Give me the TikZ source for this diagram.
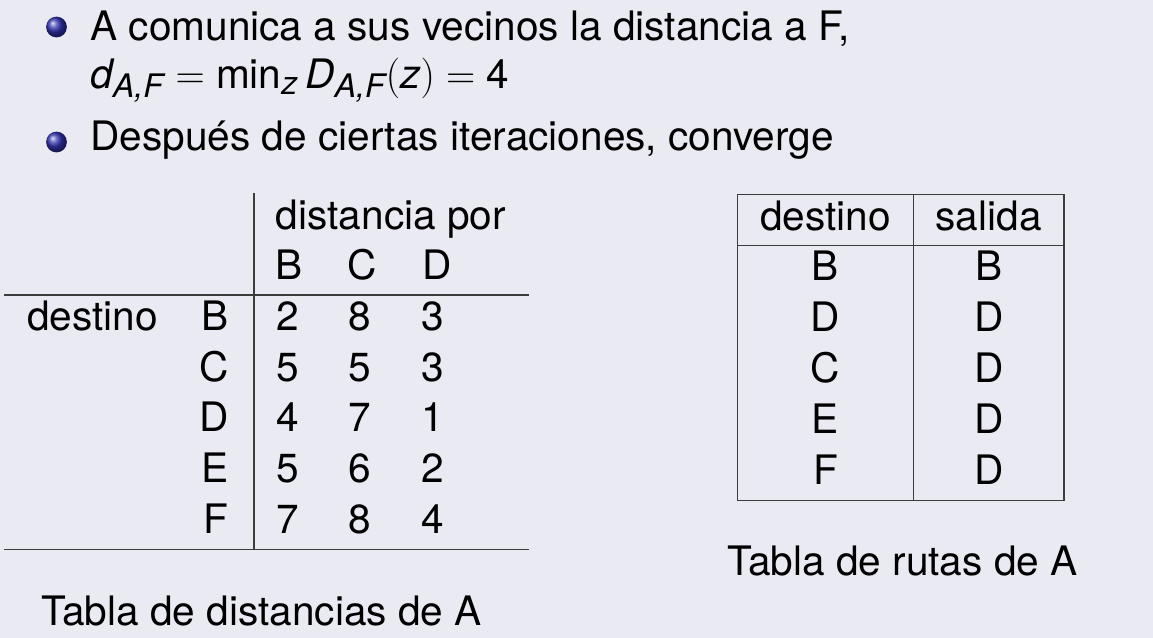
\documentclass[tikz,border=0pt]{standalone}
\usepackage{fix-cm}
\usepackage{amsmath}
\usepackage{fontspec}
\setmainfont{TeX Gyre Heros}
\usetikzlibrary{positioning}
\definecolor{slidebg}{RGB}{234,234,242}
\definecolor{rulegray}{RGB}{60,60,60}
\definecolor{ballblue}{rgb}{0.2,0.2,0.7}
\DeclareMathSizes{20.3}{20.3}{16.2}{12}
\newcommand\vit[1]{\text{\itshape #1}}

\begin{document}
\begin{tikzpicture}[x=0.5pt, y=-0.5pt,
                    every node/.style={inner sep=0pt, font=\fontsize{20.3}{24}\selectfont},
                    txt/.style={anchor=base west},
                    cell/.style={anchor=base},
                    rule/.style={rulegray, line width=0.7pt},
                    bullet/.style={circle, minimum size=10.4pt, shading=ball, ball color=ballblue}]
  % page
  \fill[slidebg] (0,0) rectangle (1153,638);
  \useasboundingbox (0,0) rectangle (1153,638);

  % bullet items
  \node[bullet] (ball1) at (56.5,27) {};
  \node[txt] (item1) at (90,40) {A comunica a sus vecinos la distancia a F,};
  \node[txt] (formula) at (90,88)
    {$\vit{d}_{\vit{A,F}} = \min_{\vit{z}}\vit{D}_{\vit{A,F}}(\vit{z}) = \text{4}$};
  \node[bullet] (ball2) at (56.5,142) {};
  \node[txt] (item2) at (90,150) {Después de ciertas iteraciones, converge};

  % distance table of A
  \def\rowH{50.7}
  \def\yFirst{330.4}
  \node[txt] (via) at (275.5,229) {distancia por};
  \foreach \n/\x in {B/275.5, C/347.5, D/422}
    \node[txt] (via\n) at (\x,279.7) {\n};
  \node[txt] (dest) at (27,\yFirst) {destino};
  \foreach \d/\b/\c/\e [count=\i, evaluate={\y=\yFirst+(\i-1)*\rowH;}]
              in {B/2/8/3, C/5/5/3, D/4/7/1, E/5/6/2, F/7/8/4}{
    \node[anchor=base east] (to\d) at (229,\y) {\d};
    \node[txt] (c\d1) at (276,\y) {\b};
    \node[txt] (c\d2) at (348,\y) {\c};
    \node[txt] (c\d3) at (421.5,\y) {\e};
  }
  \draw[rule] (254,193) -- (254,549.3);
  \draw[rule] (4,295) -- (529,295);
  \draw[rule] (4,549.3) -- (529,549.3);
  \node[txt] (capDist) at (41,625) {Tabla de distancias de A};

  % routing table of A
  \draw[rule] (737.5,194.5) rectangle (1064,500.3);
  \draw[rule] (737.5,245.5) -- (1064,245.5);
  \draw[rule] (913.3,194.5) -- (913.3,500.3);
  \node[cell] (hDest) at (825.5,230) {destino};
  \node[cell] (hOut) at (988.7,230) {salida};
  \foreach \d/\o [count=\i, evaluate={\y=280+(\i-1)*51;}]
              in {B/B, D/D, C/D, E/D, F/D}{
    \node[cell] (r\d) at (825.5,\y) {\d};
    \node[cell] (o\d) at (988.7,\y) {\o};
  }
  \node[txt] (capRoute) at (727,575) {Tabla de rutas de A};
\end{tikzpicture}
\end{document}
